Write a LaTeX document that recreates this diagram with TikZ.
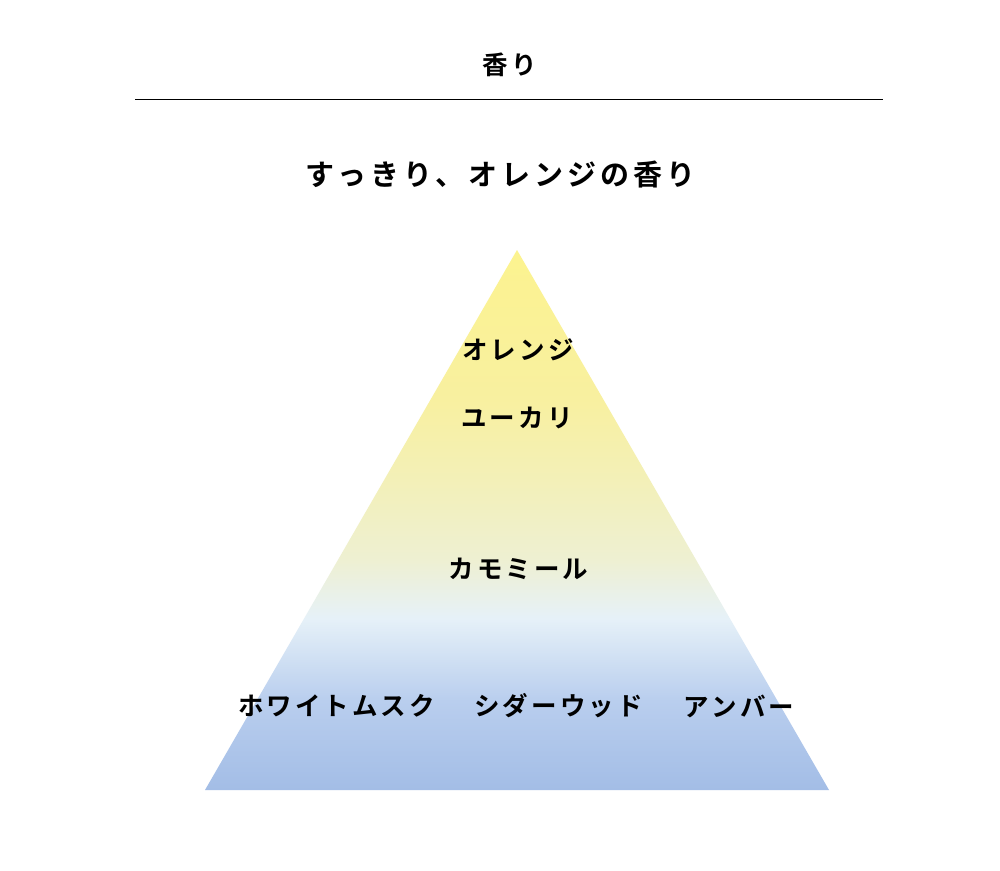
\documentclass[tikz,border=0pt]{standalone}
\usepackage{fontspec}
\newfontfamily\jpb[LetterSpace=12]{Noto Sans CJK JP Bold}
\newfontfamily\jpt[LetterSpace=14]{Noto Sans CJK JP Bold}
\definecolor{cA}{HTML}{A3BDE6}
\definecolor{cB}{HTML}{B9CEEE}
\definecolor{cC}{HTML}{E6F1F8}
\definecolor{cD}{HTML}{EEF0D2}
\definecolor{cE}{HTML}{F3F0B8}
\definecolor{cF}{HTML}{F8F0A0}
\definecolor{cG}{HTML}{FCF38F}
\pgfdeclareverticalshading{pyr}{100bp}{color(0bp)=(cA); color(25bp)=(cA); color(33.3bp)=(cB); color(40.9bp)=(cC); color(46.3bp)=(cD); color(53.7bp)=(cE); color(61.1bp)=(cF); color(75bp)=(cG); color(100bp)=(cG)}
\begin{document}
\begin{tikzpicture}[x=1pt,y=-1pt,
  lbl/.style={font=\jpb\fontsize{25.5}{28}\selectfont, inner sep=0pt, anchor=center},
  ttl/.style={font=\jpt\fontsize{29}{32}\selectfont, inner sep=0pt, anchor=center},
  head/.style={font=\jpb\fontsize{25.5}{28}\selectfont, inner sep=0pt, anchor=center}]
\useasboundingbox[fill=white] (0,0) rectangle (1000,870);
\node[head] (head) at (510,65) {香り};
\coordinate (l1) at (135,99.5);
\coordinate (l2) at (883,99.5);
\draw[line width=1pt] (l1) -- (l2);
\node[ttl] (title) at (500.5,174) {すっきり、オレンジの香り};
\coordinate (apex) at (517,250);
\coordinate (bl) at (205,790);
\coordinate (br) at (829,790);
\shade[shading=pyr] (apex) -- (br) -- (bl) -- cycle;
\node[lbl] (n1) at (518,350) {オレンジ};
\node[lbl] (n2) at (517,418) {ユーカリ};
\node[lbl] (n3) at (518.5,569) {カモミール};
\node[lbl] (n4) at (336.5,706) {ホワイトムスク};
\node[lbl] (n5) at (558.5,706) {シダーウッド};
\node[lbl] (n6) at (739,706) {アンバー};
\end{tikzpicture}
\end{document}
